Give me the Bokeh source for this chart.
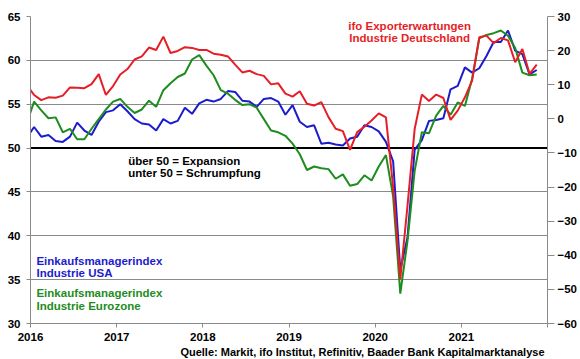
import pandas as pd
from bokeh.plotting import figure
from bokeh.models import Range1d, LinearAxis, FixedTicker, Span, Label, Title
from bokeh.embed import file_html
from bokeh.resources import INLINE

# Monthly data, Dec 2015 .. Nov 2021
months = pd.date_range("2015-12-01", "2021-11-01", freq="MS")

us_pmi = [51.2,
          52.4, 51.3, 51.5, 50.8, 50.7, 51.3, 52.9, 52.0, 51.5, 53.0, 54.1, 54.3,
          55.0, 54.2, 53.3, 52.8, 52.7, 52.0, 53.3, 52.8, 53.1, 54.6, 53.9, 55.1,
          55.5, 55.3, 55.6, 56.5, 56.4, 55.4, 55.3, 54.7, 55.6, 55.7, 55.3, 53.8,
          54.9, 53.0, 52.4, 52.6, 50.5, 50.6, 50.4, 50.3, 51.1, 51.3, 52.6, 52.4,
          51.9, 50.7, 48.5, 36.1, 39.8, 49.8, 50.9, 53.1, 53.2, 53.4, 56.7, 57.1,
          59.2, 58.6, 59.1, 60.5, 62.1, 62.1, 63.4, 61.1, 60.7, 58.4, 58.9]

ez_pmi = [52.9,
          55.3, 54.3, 53.4, 53.5, 51.8, 52.2, 51.0, 51.0, 52.2, 53.3, 54.4, 55.3,
          55.6, 54.7, 54.0, 54.4, 55.4, 54.7, 56.6, 57.4, 58.1, 58.5, 60.1, 60.6,
          59.4, 58.3, 56.6, 56.2, 55.5, 54.9, 55.0, 54.6, 53.3, 52.0, 51.8, 51.4,
          50.5, 49.3, 47.5, 47.9, 47.7, 47.6, 46.5, 47.0, 45.7, 45.9, 46.9, 46.3,
          47.9, 49.2, 44.5, 33.4, 39.4, 47.4, 51.8, 51.7, 53.7, 54.8, 53.8, 55.2,
          54.8, 57.9, 62.5, 62.9, 63.1, 63.4, 62.8, 61.4, 58.6, 58.3, 58.4]

ifo_export = [9.8,
              7.0, 5.5, 6.3, 6.2, 6.8, 9.2, 9.1, 9.0, 10.2, 13.1, 7.0, 9.6,
              13.0, 14.6, 17.4, 18.3, 20.9, 20.2, 24.1, 19.3, 19.9, 21.0, 20.8, 20.2,
              20.2, 19.1, 18.8, 18.3, 15.9, 13.6, 14.1, 13.1, 12.6, 10.1, 10.4, 7.4,
              6.5, 8.1, 4.4, 3.9, 4.9, 0.5, -2.9, -3.6, -9.1, -3.9, -2.3, -0.5,
              1.6, 0.4, -20.0, -47.0, -25.5, -3.0, 7.1, 5.2, 7.1, 6.1, -0.3, 2.4,
              6.3, 11.2, 23.9, 24.4, 22.2, 23.7, 23.0, 16.6, 20.5, 13.2, 15.9]

left_ticks = [30, 35, 40, 45, 50, 55, 60, 65]
right_ticks = [-60, -50, -40, -30, -20, -10, 0, 10, 20, 30]
year_ticks = [2016, 2017, 2018, 2019, 2020, 2021, 2022]
year_labels = ["2016", "2017", "2018", "2019", "2020", "2021", ""]

x = list(months.year + (months.month - 0.5) / 12.0)

RED = "#e61e26"
BLUE = "#1c1ccc"
GREEN = "#1e8c1e"
FONT = "Liberation Sans"

p = figure(width=580, height=359, x_range=Range1d(2016, 2022), y_range=Range1d(30, 65),
           output_backend="svg", toolbar_location=None,
           min_border_left=30, min_border_right=31, min_border_top=16, min_border_bottom=36)
p.outline_line_color = None
p.background_fill_color = "white"
p.border_fill_color = "white"

p.xgrid.visible = False
p.ygrid.ticker = FixedTicker(ticks=left_ticks)
p.ygrid.grid_line_color = "#8a8a8a"
p.ygrid.grid_line_width = 1

p.yaxis.ticker = FixedTicker(ticks=left_ticks)
p.yaxis.major_tick_out = 4
p.yaxis.major_label_standoff = 6

p.xaxis.ticker = FixedTicker(ticks=year_ticks)
p.xaxis.major_label_overrides = {t: l for t, l in zip(year_ticks, year_labels)}
p.xaxis.major_tick_out = 4
p.xaxis.major_label_standoff = 5

p.extra_y_ranges = {"ifo": Range1d(-60, 30)}
right = LinearAxis(y_range_name="ifo", ticker=FixedTicker(ticks=right_ticks))
right.major_tick_out = 7
right.major_label_standoff = 3
p.add_layout(right, "right")

for ax in p.xaxis + p.yaxis:
    ax.axis_line_color = "#8a8a8a"
    ax.major_tick_line_color = "#8a8a8a"
    ax.minor_tick_line_color = None
    ax.major_tick_in = 0
    ax.major_label_text_font = FONT
    ax.major_label_text_font_style = "bold"
    ax.major_label_text_font_size = "11.5px"
    ax.major_label_text_color = "black"

p.add_layout(Span(location=50, dimension="width", line_color="black", line_width=2, level="underlay"))

p.line(x, us_pmi, line_color=BLUE, line_width=2)
p.line(x, ez_pmi, line_color=GREEN, line_width=2)
p.line(x, ifo_export, line_color=RED, line_width=2, y_range_name="ifo")

def lab(xv, yv, txt, color, align="left", size="11.5px"):
    p.add_layout(Label(x=xv, y=yv, text=txt, text_color=color, text_font=FONT,
                       text_font_style="bold", text_font_size=size,
                       text_align=align, text_baseline="middle"))

lab(2017.133, 48.49, "über 50 = Expansion", "black")
lab(2017.133, 47.11, "unter 50 = Schrumpfung", "black")
lab(2020.40, 63.86, "ifo Exporterwartungen", RED, "center")
lab(2020.40, 62.54, "Industrie Deutschland", RED, "center")
lab(2016.069, 37.11, "Einkaufsmanagerindex", BLUE)
lab(2016.069, 35.74, "Industrie USA", BLUE)
lab(2016.069, 33.46, "Einkaufsmanagerindex", GREEN)
lab(2016.069, 31.97, "Industrie Eurozone", GREEN)

source = Title(text="Quelle: Markit, ifo Institut, Refinitiv, Baader Bank Kapitalmarktanalyse",
               align="right", offset=3, standoff=0, text_font=FONT, text_font_style="bold",
               text_font_size="11px", text_color="black")
p.add_layout(source, "below")

open("out.html", "w").write(file_html(p, INLINE))
